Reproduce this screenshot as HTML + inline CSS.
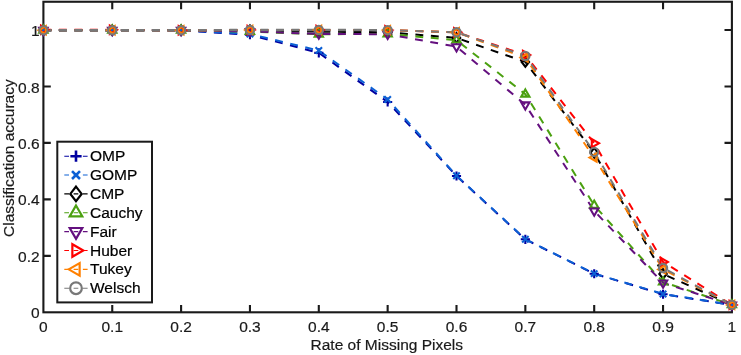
<!DOCTYPE html>
<html><head><meta charset="utf-8"><title>Classification accuracy vs Rate of Missing Pixels</title>
<style>
html,body{margin:0;padding:0;background:#fff;}
body{width:741px;height:355px;overflow:hidden;}
svg{display:block;}
text{font-family:"Liberation Sans",sans-serif;fill:#1a1a1a;stroke:#1a1a1a;stroke-width:0.2px;}
.tick{font-size:15.5px;}
.lab{font-size:15.5px;}
.leg{font-size:15.5px;fill:#000;stroke:#000;}
</style></head><body>
<svg width="741" height="355" viewBox="0 0 741 355">
<rect width="741" height="355" fill="#fff"/>
<rect x="43.4" y="1.75" width="688.50" height="310.55" fill="none" stroke="#1a1a1a" stroke-width="2.1"/>
<path d="M112.25 312.3v-7.4M112.25 1.75v7.4M181.10 312.3v-7.4M181.10 1.75v7.4M249.95 312.3v-7.4M249.95 1.75v7.4M318.80 312.3v-7.4M318.80 1.75v7.4M387.65 312.3v-7.4M387.65 1.75v7.4M456.50 312.3v-7.4M456.50 1.75v7.4M525.35 312.3v-7.4M525.35 1.75v7.4M594.20 312.3v-7.4M594.20 1.75v7.4M663.05 312.3v-7.4M663.05 1.75v7.4M43.4 255.84h7.4M731.9 255.84h-7.4M43.4 199.37h7.4M731.9 199.37h-7.4M43.4 142.91h7.4M731.9 142.91h-7.4M43.4 86.45h7.4M731.9 86.45h-7.4M43.4 29.98h7.4M731.9 29.98h-7.4" stroke="#1a1a1a" stroke-width="2.1" fill="none"/>
<text class="tick" x="43.40" y="331.5" text-anchor="middle">0</text>
<text class="tick" x="112.25" y="331.5" text-anchor="middle">0.1</text>
<text class="tick" x="181.10" y="331.5" text-anchor="middle">0.2</text>
<text class="tick" x="249.95" y="331.5" text-anchor="middle">0.3</text>
<text class="tick" x="318.80" y="331.5" text-anchor="middle">0.4</text>
<text class="tick" x="387.65" y="331.5" text-anchor="middle">0.5</text>
<text class="tick" x="456.50" y="331.5" text-anchor="middle">0.6</text>
<text class="tick" x="525.35" y="331.5" text-anchor="middle">0.7</text>
<text class="tick" x="594.20" y="331.5" text-anchor="middle">0.8</text>
<text class="tick" x="663.05" y="331.5" text-anchor="middle">0.9</text>
<text class="tick" x="731.90" y="331.5" text-anchor="middle">1</text>
<text class="tick" x="39.6" y="318.40" text-anchor="end">0</text>
<text class="tick" x="39.6" y="261.94" text-anchor="end">0.2</text>
<text class="tick" x="39.6" y="205.47" text-anchor="end">0.4</text>
<text class="tick" x="39.6" y="149.01" text-anchor="end">0.6</text>
<text class="tick" x="39.6" y="92.55" text-anchor="end">0.8</text>
<text class="tick" x="39.6" y="36.08" text-anchor="end">1</text>
<text class="lab" x="386.8" y="350" text-anchor="middle">Rate of Missing Pixels</text>
<text class="lab" transform="translate(14.2 158.1) rotate(-90)" text-anchor="middle">Classification accuracy</text>
<polyline points="43.40,30.26 112.25,30.26 181.10,30.26 249.95,34.78 318.80,52.85 387.65,101.97 456.50,175.94 525.35,239.32 594.20,273.76 663.05,294.23 731.90,304.88" fill="none" stroke="#0000a0" stroke-width="2.0" stroke-dasharray="7.9 7.605" stroke-linejoin="miter"/>
<polyline points="43.40,30.26 112.25,30.26 181.10,30.26 249.95,33.93 318.80,50.59 387.65,99.43 456.50,175.66 525.35,239.18 594.20,273.62 663.05,293.95 731.90,304.88" fill="none" stroke="#0c60d4" stroke-width="2.0" stroke-dasharray="7.9 7.605" stroke-linejoin="miter"/>
<polyline points="43.40,30.26 112.25,30.26 181.10,30.26 249.95,30.26 318.80,31.68 387.65,32.24 456.50,37.89 525.35,61.88 594.20,152.79 663.05,273.90 731.90,304.88" fill="none" stroke="#000000" stroke-width="2.0" stroke-dasharray="7.9 7.605" stroke-linejoin="miter"/>
<polyline points="43.40,30.26 112.25,30.26 181.10,30.26 249.95,31.68 318.80,34.22 387.65,33.93 456.50,40.15 525.35,94.21 594.20,205.30 663.05,282.09 731.90,304.88" fill="none" stroke="#4ba010" stroke-width="2.0" stroke-dasharray="7.9 7.605" stroke-linejoin="miter"/>
<polyline points="43.40,30.26 112.25,30.26 181.10,30.26 249.95,31.39 318.80,33.93 387.65,34.22 456.50,46.64 525.35,104.80 594.20,210.95 663.05,282.94 731.90,304.88" fill="none" stroke="#64107f" stroke-width="2.0" stroke-dasharray="7.9 7.605" stroke-linejoin="miter"/>
<polyline points="43.40,29.70 112.25,29.84 181.10,30.26 249.95,29.98 318.80,29.98 387.65,30.12 456.50,32.24 525.35,54.97 594.20,143.19 663.05,261.91 731.90,304.88" fill="none" stroke="#ff0000" stroke-width="2.0" stroke-dasharray="7.9 7.605" stroke-linejoin="miter"/>
<polyline points="43.40,30.26 112.25,30.26 181.10,30.26 249.95,29.98 318.80,29.98 387.65,30.12 456.50,32.24 525.35,57.65 594.20,157.59 663.05,269.39 731.90,304.88" fill="none" stroke="#ff8000" stroke-width="2.0" stroke-dasharray="7.9 7.605" stroke-linejoin="miter"/>
<polyline points="43.40,30.26 112.25,30.26 181.10,30.26 249.95,29.98 318.80,29.98 387.65,30.12 456.50,32.24 525.35,55.96 594.20,151.94 663.05,267.98 731.90,304.88" fill="none" stroke="#787878" stroke-width="2.0" stroke-dasharray="7.9 7.605" stroke-linejoin="miter"/>
<polyline points="43.40,30.26 112.25,30.26 181.10,30.26 249.95,29.98 318.80,29.98 387.65,30.12" fill="none" stroke="#787878" stroke-width="2.4" stroke-dasharray="7.9 7.605"/>
<path d="M38.84 30.26H47.96M43.40 25.70V34.83" stroke="#0000a0" stroke-width="2.1" fill="none"/>
<path d="M107.69 30.26H116.81M112.25 25.70V34.83" stroke="#0000a0" stroke-width="2.1" fill="none"/>
<path d="M176.54 30.26H185.67M181.10 25.70V34.83" stroke="#0000a0" stroke-width="2.1" fill="none"/>
<path d="M245.38 34.78H254.51M249.95 30.22V39.35" stroke="#0000a0" stroke-width="2.1" fill="none"/>
<path d="M314.24 52.85H323.37M318.80 48.28V57.41" stroke="#0000a0" stroke-width="2.1" fill="none"/>
<path d="M383.08 101.97H392.21M387.65 97.41V106.54" stroke="#0000a0" stroke-width="2.1" fill="none"/>
<path d="M451.93 175.94H461.06M456.50 171.38V180.51" stroke="#0000a0" stroke-width="2.1" fill="none"/>
<path d="M520.78 239.32H529.92M525.35 234.76V243.89" stroke="#0000a0" stroke-width="2.1" fill="none"/>
<path d="M589.63 273.76H598.77M594.20 269.20V278.33" stroke="#0000a0" stroke-width="2.1" fill="none"/>
<path d="M658.48 294.23H667.62M663.05 289.67V298.80" stroke="#0000a0" stroke-width="2.1" fill="none"/>
<path d="M727.33 304.88H736.47M731.90 300.31V309.44" stroke="#0000a0" stroke-width="2.1" fill="none"/>
<path d="M40.16 27.03L46.64 33.50M40.16 33.50L46.64 27.03" stroke="#0c60d4" stroke-width="2.1" fill="none"/>
<path d="M109.01 27.03L115.49 33.50M109.01 33.50L115.49 27.03" stroke="#0c60d4" stroke-width="2.1" fill="none"/>
<path d="M177.86 27.03L184.34 33.50M177.86 33.50L184.34 27.03" stroke="#0c60d4" stroke-width="2.1" fill="none"/>
<path d="M246.71 30.70L253.19 37.17M246.71 37.17L253.19 30.70" stroke="#0c60d4" stroke-width="2.1" fill="none"/>
<path d="M315.56 47.35L322.04 53.83M315.56 53.83L322.04 47.35" stroke="#0c60d4" stroke-width="2.1" fill="none"/>
<path d="M384.41 96.20L390.89 102.67M384.41 102.67L390.89 96.20" stroke="#0c60d4" stroke-width="2.1" fill="none"/>
<path d="M453.26 172.42L459.74 178.90M453.26 178.90L459.74 172.42" stroke="#0c60d4" stroke-width="2.1" fill="none"/>
<path d="M522.11 235.94L528.59 242.42M522.11 242.42L528.59 235.94" stroke="#0c60d4" stroke-width="2.1" fill="none"/>
<path d="M590.96 270.39L597.44 276.86M590.96 276.86L597.44 270.39" stroke="#0c60d4" stroke-width="2.1" fill="none"/>
<path d="M659.81 290.71L666.29 297.19M659.81 297.19L666.29 290.71" stroke="#0c60d4" stroke-width="2.1" fill="none"/>
<path d="M728.66 301.64L735.14 308.11M728.66 308.11L735.14 301.64" stroke="#0c60d4" stroke-width="2.1" fill="none"/>
<path d="M43.40 25.41L47.13 30.26L43.40 35.12L39.66 30.26Z" stroke="#000000" stroke-width="2.1" fill="none" stroke-linejoin="miter"/>
<path d="M112.25 25.41L115.98 30.26L112.25 35.12L108.52 30.26Z" stroke="#000000" stroke-width="2.1" fill="none" stroke-linejoin="miter"/>
<path d="M181.10 25.41L184.84 30.26L181.10 35.12L177.37 30.26Z" stroke="#000000" stroke-width="2.1" fill="none" stroke-linejoin="miter"/>
<path d="M249.95 25.41L253.69 30.26L249.95 35.12L246.21 30.26Z" stroke="#000000" stroke-width="2.1" fill="none" stroke-linejoin="miter"/>
<path d="M318.80 26.82L322.54 31.68L318.80 36.53L315.06 31.68Z" stroke="#000000" stroke-width="2.1" fill="none" stroke-linejoin="miter"/>
<path d="M387.65 27.38L391.38 32.24L387.65 37.10L383.91 32.24Z" stroke="#000000" stroke-width="2.1" fill="none" stroke-linejoin="miter"/>
<path d="M456.50 33.03L460.23 37.89L456.50 42.74L452.76 37.89Z" stroke="#000000" stroke-width="2.1" fill="none" stroke-linejoin="miter"/>
<path d="M525.35 57.03L529.09 61.88L525.35 66.74L521.62 61.88Z" stroke="#000000" stroke-width="2.1" fill="none" stroke-linejoin="miter"/>
<path d="M594.20 147.93L597.94 152.79L594.20 157.65L590.47 152.79Z" stroke="#000000" stroke-width="2.1" fill="none" stroke-linejoin="miter"/>
<path d="M663.05 269.05L666.78 273.90L663.05 278.76L659.31 273.90Z" stroke="#000000" stroke-width="2.1" fill="none" stroke-linejoin="miter"/>
<path d="M731.90 300.02L735.63 304.88L731.90 309.73L728.16 304.88Z" stroke="#000000" stroke-width="2.1" fill="none" stroke-linejoin="miter"/>
<path d="M43.40 25.47L47.55 32.66L39.25 32.66Z" stroke="#4ba010" stroke-width="2.1" fill="none" stroke-linejoin="miter" stroke-miterlimit="10"/>
<path d="M112.25 25.47L116.40 32.66L108.10 32.66Z" stroke="#4ba010" stroke-width="2.1" fill="none" stroke-linejoin="miter" stroke-miterlimit="10"/>
<path d="M181.10 25.47L185.25 32.66L176.95 32.66Z" stroke="#4ba010" stroke-width="2.1" fill="none" stroke-linejoin="miter" stroke-miterlimit="10"/>
<path d="M249.95 26.88L254.10 34.07L245.80 34.07Z" stroke="#4ba010" stroke-width="2.1" fill="none" stroke-linejoin="miter" stroke-miterlimit="10"/>
<path d="M318.80 29.42L322.95 36.61L314.65 36.61Z" stroke="#4ba010" stroke-width="2.1" fill="none" stroke-linejoin="miter" stroke-miterlimit="10"/>
<path d="M387.65 29.14L391.80 36.33L383.50 36.33Z" stroke="#4ba010" stroke-width="2.1" fill="none" stroke-linejoin="miter" stroke-miterlimit="10"/>
<path d="M456.50 35.35L460.65 42.54L452.35 42.54Z" stroke="#4ba010" stroke-width="2.1" fill="none" stroke-linejoin="miter" stroke-miterlimit="10"/>
<path d="M525.35 89.42L529.50 96.61L521.20 96.61Z" stroke="#4ba010" stroke-width="2.1" fill="none" stroke-linejoin="miter" stroke-miterlimit="10"/>
<path d="M594.20 200.51L598.35 207.70L590.05 207.70Z" stroke="#4ba010" stroke-width="2.1" fill="none" stroke-linejoin="miter" stroke-miterlimit="10"/>
<path d="M663.05 277.30L667.20 284.49L658.90 284.49Z" stroke="#4ba010" stroke-width="2.1" fill="none" stroke-linejoin="miter" stroke-miterlimit="10"/>
<path d="M731.90 300.08L736.05 307.27L727.75 307.27Z" stroke="#4ba010" stroke-width="2.1" fill="none" stroke-linejoin="miter" stroke-miterlimit="10"/>
<path d="M43.40 35.06L47.55 27.87L39.25 27.87Z" stroke="#64107f" stroke-width="2.1" fill="none" stroke-linejoin="miter" stroke-miterlimit="10"/>
<path d="M112.25 35.06L116.40 27.87L108.10 27.87Z" stroke="#64107f" stroke-width="2.1" fill="none" stroke-linejoin="miter" stroke-miterlimit="10"/>
<path d="M181.10 35.06L185.25 27.87L176.95 27.87Z" stroke="#64107f" stroke-width="2.1" fill="none" stroke-linejoin="miter" stroke-miterlimit="10"/>
<path d="M249.95 36.19L254.10 29.00L245.80 29.00Z" stroke="#64107f" stroke-width="2.1" fill="none" stroke-linejoin="miter" stroke-miterlimit="10"/>
<path d="M318.80 38.73L322.95 31.54L314.65 31.54Z" stroke="#64107f" stroke-width="2.1" fill="none" stroke-linejoin="miter" stroke-miterlimit="10"/>
<path d="M387.65 39.01L391.80 31.82L383.50 31.82Z" stroke="#64107f" stroke-width="2.1" fill="none" stroke-linejoin="miter" stroke-miterlimit="10"/>
<path d="M456.50 51.43L460.65 44.24L452.35 44.24Z" stroke="#64107f" stroke-width="2.1" fill="none" stroke-linejoin="miter" stroke-miterlimit="10"/>
<path d="M525.35 109.59L529.50 102.40L521.20 102.40Z" stroke="#64107f" stroke-width="2.1" fill="none" stroke-linejoin="miter" stroke-miterlimit="10"/>
<path d="M594.20 215.74L598.35 208.55L590.05 208.55Z" stroke="#64107f" stroke-width="2.1" fill="none" stroke-linejoin="miter" stroke-miterlimit="10"/>
<path d="M663.05 287.73L667.20 280.54L658.90 280.54Z" stroke="#64107f" stroke-width="2.1" fill="none" stroke-linejoin="miter" stroke-miterlimit="10"/>
<path d="M731.90 309.67L736.05 302.48L727.75 302.48Z" stroke="#64107f" stroke-width="2.1" fill="none" stroke-linejoin="miter" stroke-miterlimit="10"/>
<path d="M48.19 29.70L41.00 25.55L41.00 33.85Z" stroke="#ff0000" stroke-width="2.1" fill="none" stroke-linejoin="miter" stroke-miterlimit="10"/>
<path d="M117.04 29.84L109.85 25.69L109.85 33.99Z" stroke="#ff0000" stroke-width="2.1" fill="none" stroke-linejoin="miter" stroke-miterlimit="10"/>
<path d="M185.89 30.26L178.70 26.11L178.70 34.41Z" stroke="#ff0000" stroke-width="2.1" fill="none" stroke-linejoin="miter" stroke-miterlimit="10"/>
<path d="M254.74 29.98L247.55 25.83L247.55 34.13Z" stroke="#ff0000" stroke-width="2.1" fill="none" stroke-linejoin="miter" stroke-miterlimit="10"/>
<path d="M323.59 29.98L316.40 25.83L316.40 34.13Z" stroke="#ff0000" stroke-width="2.1" fill="none" stroke-linejoin="miter" stroke-miterlimit="10"/>
<path d="M392.44 30.12L385.25 25.97L385.25 34.27Z" stroke="#ff0000" stroke-width="2.1" fill="none" stroke-linejoin="miter" stroke-miterlimit="10"/>
<path d="M461.29 32.24L454.10 28.09L454.10 36.39Z" stroke="#ff0000" stroke-width="2.1" fill="none" stroke-linejoin="miter" stroke-miterlimit="10"/>
<path d="M530.14 54.97L522.95 50.82L522.95 59.12Z" stroke="#ff0000" stroke-width="2.1" fill="none" stroke-linejoin="miter" stroke-miterlimit="10"/>
<path d="M598.99 143.19L591.80 139.04L591.80 147.34Z" stroke="#ff0000" stroke-width="2.1" fill="none" stroke-linejoin="miter" stroke-miterlimit="10"/>
<path d="M667.84 261.91L660.65 257.76L660.65 266.06Z" stroke="#ff0000" stroke-width="2.1" fill="none" stroke-linejoin="miter" stroke-miterlimit="10"/>
<path d="M736.69 304.88L729.50 300.73L729.50 309.03Z" stroke="#ff0000" stroke-width="2.1" fill="none" stroke-linejoin="miter" stroke-miterlimit="10"/>
<path d="M38.61 30.26L45.80 26.11L45.80 34.41Z" stroke="#ff8000" stroke-width="2.1" fill="none" stroke-linejoin="miter" stroke-miterlimit="10"/>
<path d="M107.46 30.26L114.65 26.11L114.65 34.41Z" stroke="#ff8000" stroke-width="2.1" fill="none" stroke-linejoin="miter" stroke-miterlimit="10"/>
<path d="M176.31 30.26L183.50 26.11L183.50 34.41Z" stroke="#ff8000" stroke-width="2.1" fill="none" stroke-linejoin="miter" stroke-miterlimit="10"/>
<path d="M245.16 29.98L252.35 25.83L252.35 34.13Z" stroke="#ff8000" stroke-width="2.1" fill="none" stroke-linejoin="miter" stroke-miterlimit="10"/>
<path d="M314.01 29.98L321.20 25.83L321.20 34.13Z" stroke="#ff8000" stroke-width="2.1" fill="none" stroke-linejoin="miter" stroke-miterlimit="10"/>
<path d="M382.86 30.12L390.05 25.97L390.05 34.27Z" stroke="#ff8000" stroke-width="2.1" fill="none" stroke-linejoin="miter" stroke-miterlimit="10"/>
<path d="M451.71 32.24L458.90 28.09L458.90 36.39Z" stroke="#ff8000" stroke-width="2.1" fill="none" stroke-linejoin="miter" stroke-miterlimit="10"/>
<path d="M520.56 57.65L527.75 53.50L527.75 61.80Z" stroke="#ff8000" stroke-width="2.1" fill="none" stroke-linejoin="miter" stroke-miterlimit="10"/>
<path d="M589.41 157.59L596.60 153.44L596.60 161.74Z" stroke="#ff8000" stroke-width="2.1" fill="none" stroke-linejoin="miter" stroke-miterlimit="10"/>
<path d="M658.26 269.39L665.45 265.24L665.45 273.54Z" stroke="#ff8000" stroke-width="2.1" fill="none" stroke-linejoin="miter" stroke-miterlimit="10"/>
<path d="M727.11 304.88L734.30 300.73L734.30 309.03Z" stroke="#ff8000" stroke-width="2.1" fill="none" stroke-linejoin="miter" stroke-miterlimit="10"/>
<circle cx="43.40" cy="30.26" r="4.15" stroke="#787878" stroke-width="2.1" fill="none"/>
<circle cx="112.25" cy="30.26" r="4.15" stroke="#787878" stroke-width="2.1" fill="none"/>
<circle cx="181.10" cy="30.26" r="4.15" stroke="#787878" stroke-width="2.1" fill="none"/>
<circle cx="249.95" cy="29.98" r="4.15" stroke="#787878" stroke-width="2.1" fill="none"/>
<circle cx="318.80" cy="29.98" r="4.15" stroke="#787878" stroke-width="2.1" fill="none"/>
<circle cx="387.65" cy="30.12" r="4.15" stroke="#787878" stroke-width="2.1" fill="none"/>
<circle cx="456.50" cy="32.24" r="4.15" stroke="#787878" stroke-width="2.1" fill="none"/>
<circle cx="525.35" cy="55.96" r="4.15" stroke="#787878" stroke-width="2.1" fill="none"/>
<circle cx="594.20" cy="151.94" r="4.15" stroke="#787878" stroke-width="2.1" fill="none"/>
<circle cx="663.05" cy="267.98" r="4.15" stroke="#787878" stroke-width="2.1" fill="none"/>
<circle cx="731.90" cy="304.88" r="4.15" stroke="#787878" stroke-width="2.1" fill="none"/>
<rect x="57.3" y="141.7" width="94.70" height="160.70" fill="#fff" stroke="#1a1a1a" stroke-width="2.0"/>
<path d="M64.3 156.20H87.6" stroke="#0000a0" stroke-width="1.1" stroke-dasharray="4.7 4.6" fill="none"/>
<path d="M70.39 156.20H81.61M76.00 150.59V161.81" stroke="#0000a0" stroke-width="2.6" fill="none"/>
<text class="leg" x="90.0" y="161.30">OMP</text>
<path d="M64.3 175.06H87.6" stroke="#0c60d4" stroke-width="1.1" stroke-dasharray="4.7 4.6" fill="none"/>
<path d="M72.02 171.08L79.98 179.04M72.02 179.04L79.98 171.08" stroke="#0c60d4" stroke-width="2.6" fill="none"/>
<text class="leg" x="90.0" y="180.16">GOMP</text>
<path d="M64.3 193.92H87.6" stroke="#000000" stroke-width="1.1" stroke-dasharray="4.7 4.6" fill="none"/>
<path d="M76.00 186.55L81.67 193.92L76.00 201.29L70.33 193.92Z" stroke="#000000" stroke-width="2.2" fill="none" stroke-linejoin="miter"/>
<text class="leg" x="90.0" y="199.02">CMP</text>
<path d="M64.3 212.78H87.6" stroke="#4ba010" stroke-width="1.1" stroke-dasharray="4.7 4.6" fill="none"/>
<path d="M76.00 205.51L82.30 216.42L69.70 216.42Z" stroke="#4ba010" stroke-width="2.2" fill="none" stroke-linejoin="miter" stroke-miterlimit="10"/>
<text class="leg" x="90.0" y="217.88">Cauchy</text>
<path d="M64.3 231.64H87.6" stroke="#64107f" stroke-width="1.1" stroke-dasharray="4.7 4.6" fill="none"/>
<path d="M76.00 238.91L82.30 228.00L69.70 228.00Z" stroke="#64107f" stroke-width="2.2" fill="none" stroke-linejoin="miter" stroke-miterlimit="10"/>
<text class="leg" x="90.0" y="236.74">Fair</text>
<path d="M64.3 250.50H87.6" stroke="#ff0000" stroke-width="1.1" stroke-dasharray="4.7 4.6" fill="none"/>
<path d="M83.27 250.50L72.36 244.20L72.36 256.80Z" stroke="#ff0000" stroke-width="2.2" fill="none" stroke-linejoin="miter" stroke-miterlimit="10"/>
<text class="leg" x="90.0" y="255.60">Huber</text>
<path d="M64.3 269.36H87.6" stroke="#ff8000" stroke-width="1.1" stroke-dasharray="4.7 4.6" fill="none"/>
<path d="M68.73 269.36L79.64 263.06L79.64 275.66Z" stroke="#ff8000" stroke-width="2.2" fill="none" stroke-linejoin="miter" stroke-miterlimit="10"/>
<text class="leg" x="90.0" y="274.46">Tukey</text>
<path d="M64.3 288.22H87.6" stroke="#787878" stroke-width="1.1" stroke-dasharray="4.7 4.6" fill="none"/>
<circle cx="76.00" cy="288.22" r="5.85" stroke="#787878" stroke-width="2.2" fill="none"/>
<text class="leg" x="90.0" y="293.32">Welsch</text>
</svg></body></html>
